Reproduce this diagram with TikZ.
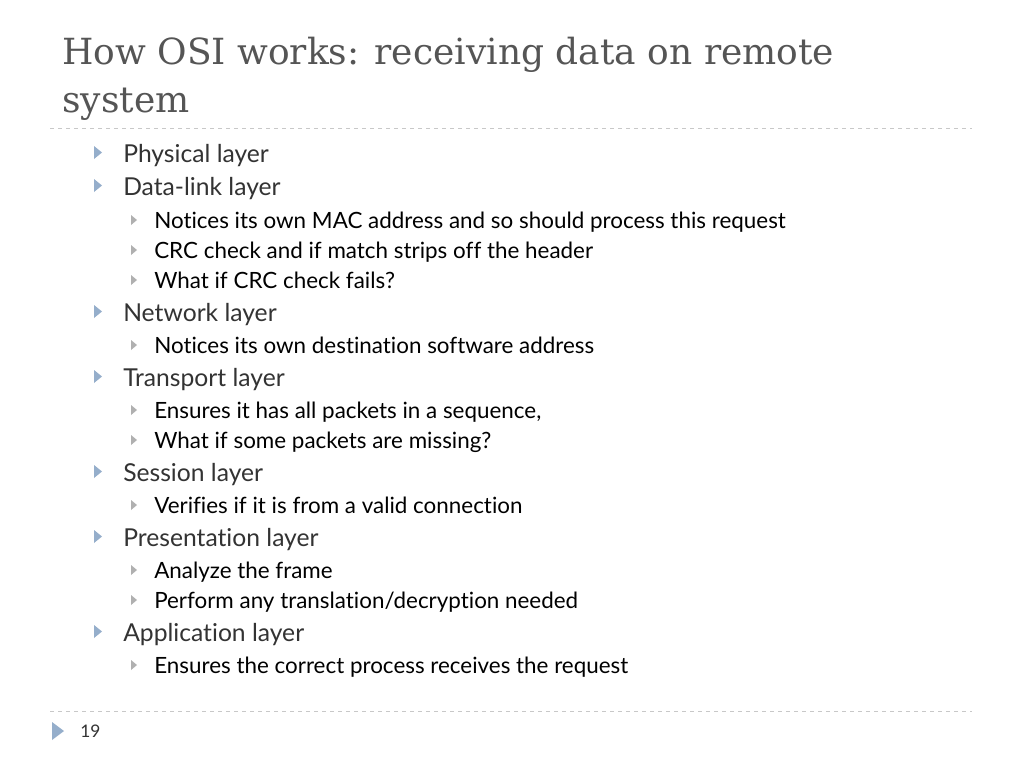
\documentclass[tikz,border=0pt]{standalone}
\usepackage{fontspec}
\setmainfont{Lato}[RawFeature=-liga]
\newfontfamily\titlefont{DejaVu Serif}
\definecolor{titlegray}{HTML}{555555}
\definecolor{bulletblue}{HTML}{95AECB}
\definecolor{subgray}{HTML}{B0B0B0}
\definecolor{rulegray}{HTML}{C8C8C8}
\begin{document}
\begin{tikzpicture}[x=0.75pt,y=-0.75pt,
    title/.style={anchor=base west, inner sep=0pt, text=titlegray, font=\titlefont\fontsize{27}{30}\selectfont},
    lvlone/.style={anchor=base west, inner sep=0pt, text=black!80, font=\fontsize{18.5}{20}\selectfont},
    lvltwo/.style={anchor=base west, inner sep=0pt, text=black, font=\fontsize{16.8}{18}\selectfont},
    sep/.style={rulegray, dashed, line width=0.6pt}
  ]
    \useasboundingbox (0,0) rectangle (1024,768);
    \fill[white] (0,0) rectangle (1024,768);

    % Title
    \node[title] (title1) at (62,64) {How OSI works: receiving data on remote};
    \node[title] (title2) at (62,112) {system};
    \draw[sep] (50,128) -- (972,128);

    % Bullets
    \foreach \y/\t [count=\i] in {162/Physical layer, 195/Data-link layer, 321/Network layer,
        386/Transport layer, 481/Session layer, 546/Presentation layer, 641/Application layer}{
      \fill[bulletblue] (94,\y-16) -- (102,\y-9.5) -- (94,\y-3) -- cycle;
      \node[lvlone] (main\i) at (123,\y) {\t};
    }
    \foreach \y/\t [count=\i] in {
        228/{Notices its own MAC address and so should process this request},
        258/{CRC check and if match strips off the header},
        288/{What if CRC check fails?},
        353/{Notices its own destination software address},
        418/{Ensures it has all packets in a sequence,},
        448/{What if some packets are missing?},
        513/{Verifies if it is from a valid connection},
        578/{Analyze the frame},
        608/{Perform any translation/decryption needed},
        673/{Ensures the correct process receives the request}}{
      \fill[subgray] (131,\y-13) -- (137,\y-8) -- (131,\y-3) -- cycle;
      \node[lvltwo] (sub\i) at (154,\y) {\t};
    }

    % Footer
    \draw[sep] (50,711) -- (972,711);
    \fill[bulletblue] (52,722) -- (64,731) -- (52,740) -- cycle;
    \node[anchor=base west, inner sep=0pt, font=\fontsize{13}{14}\selectfont, text=black!80] (page) at (80,737) {19};
\end{tikzpicture}
\end{document}
